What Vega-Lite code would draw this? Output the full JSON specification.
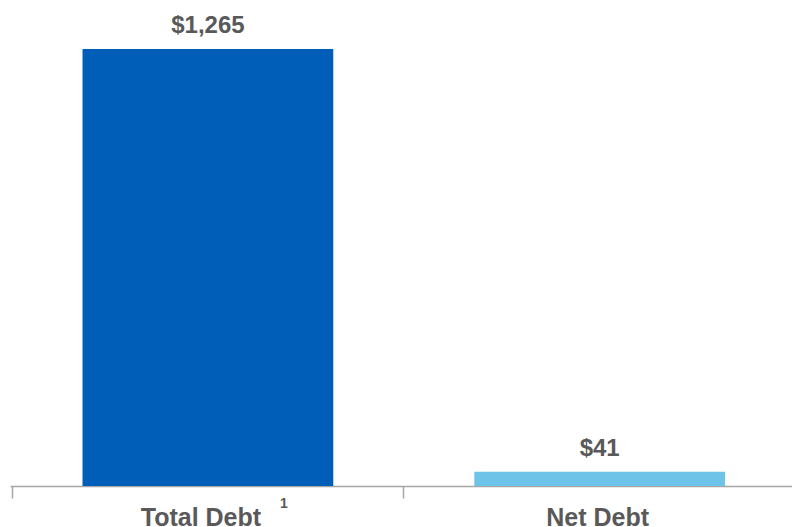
{
  "$schema": "https://vega.github.io/schema/vega-lite/v6.json",
  "width": 782,
  "height": 486,
  "autosize": {"type": "none"},
  "padding": {"left": 10, "top": 0, "right": 0, "bottom": 41},
  "background": "white",
  "config": {"view": {"stroke": null}, "font": "Liberation Sans"},
  "data": {"values": [
    {"category": "Total Debt", "value": 1265, "note": "1"},
    {"category": "Net Debt", "value": 41, "note": ""}
  ]},
  "encoding": {
    "x": {"field": "category", "type": "nominal", "sort": null, "title": null,
      "scale": {"paddingInner": 0.36, "paddingOuter": 0.178, "align": 0.52},
      "axis": {"orient": "bottom", "bandPosition": -0.281,
        "labelOffset": {"condition": {"test": "datum.value == 'Total Debt'", "value": -7}, "value": -2},
        "ticks": true, "tickSize": 12, "tickColor": "#a6a6a6", "tickWidth": 1.5, "domainColor": "#a6a6a6", "domainWidth": 1.5, "labelFontSize": 25, "labelFontWeight": "bold", "labelColor": "#595959", "labelPadding": 7, "labelAngle": 0, "title": null}},
    "y": {"field": "value", "type": "quantitative", "scale": {"domain": [0, 1407], "nice": false}, "axis": null}
  },
  "layer": [
    {
      "mark": {"type": "bar"},
      "encoding": {
        "color": {"field": "category", "type": "nominal", "scale": {"domain": ["Total Debt", "Net Debt"], "range": ["#005EB8", "#6EC4E8"]}, "legend": null}
      }
    },
    {
      "mark": {"type": "text", "baseline": "alphabetic", "dy": -16, "fontSize": 24, "fontWeight": "bold", "color": "#595959"},
      "encoding": {
        "text": {"field": "value", "type": "quantitative", "format": "$,.0f"}
      }
    },
    {
      "mark": {"type": "text", "baseline": "alphabetic", "dx": 76, "dy": 22, "fontSize": 14, "fontWeight": "bold", "color": "#595959"},
      "encoding": {
        "text": {"field": "note"},
        "y": {"datum": 0, "type": "quantitative"}
      }
    }
  ]
}
